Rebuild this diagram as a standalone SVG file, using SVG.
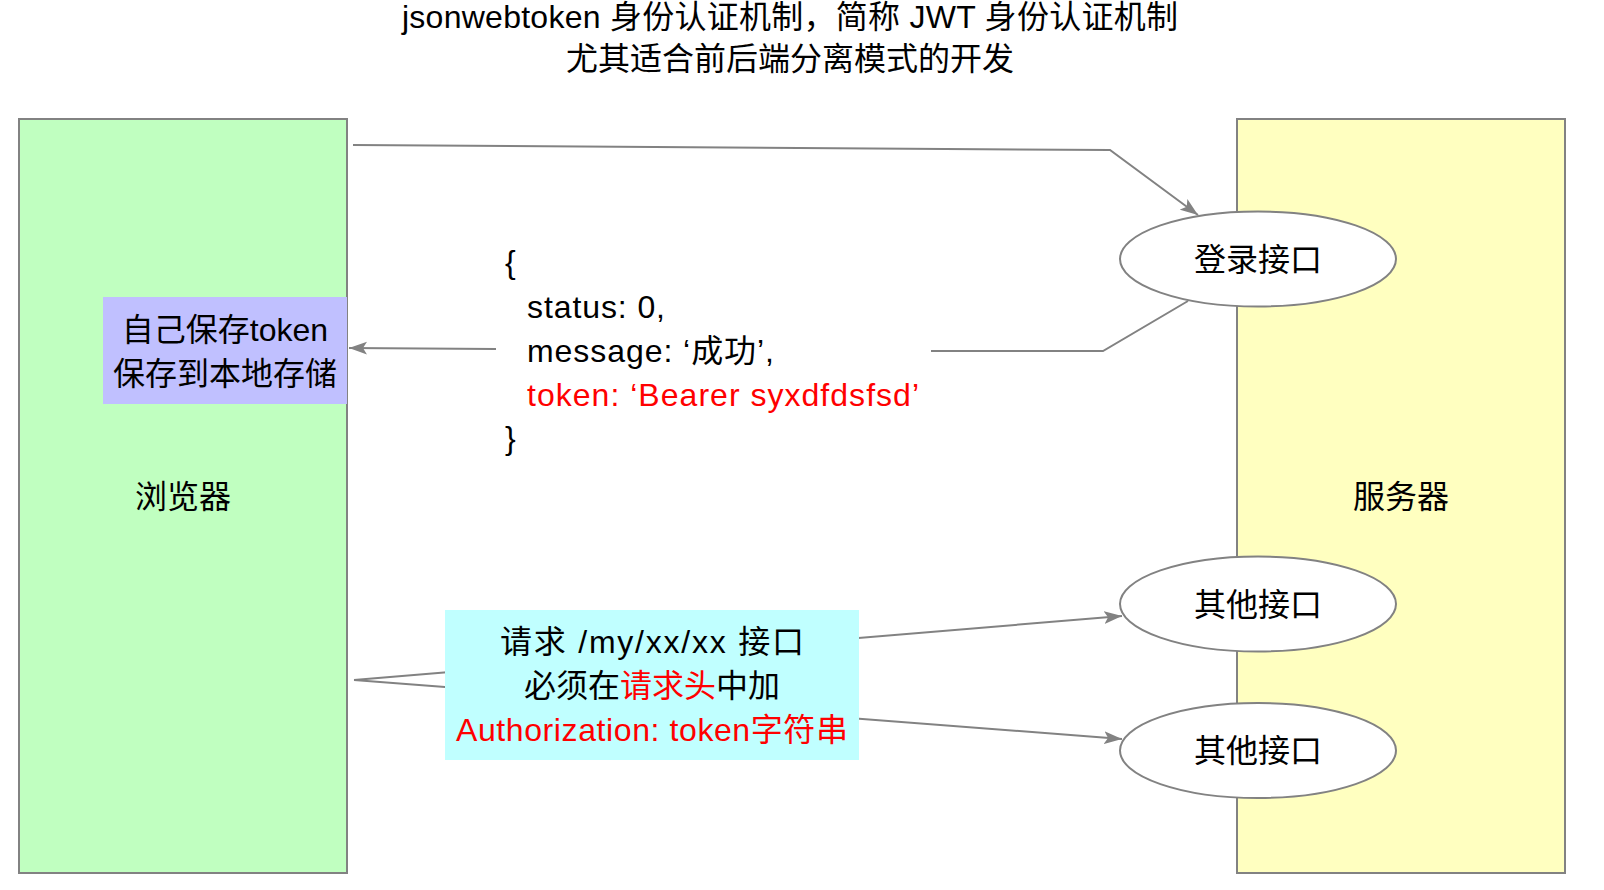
<svg xmlns="http://www.w3.org/2000/svg" width="1604" height="890" viewBox="0 0 1604 890">
<defs>
<style>
text{font-family:"Liberation Sans","Noto Sans CJK SC",sans-serif;font-size:32px;fill:#000}
.red{fill:#ff0000}
.box{stroke:#828282;stroke-width:2}
.edge{fill:none;stroke:#828282;stroke-width:2}
.ell{fill:#fff;stroke:#828282;stroke-width:2}
</style>
<marker id="arr" markerUnits="userSpaceOnUse" markerWidth="19" markerHeight="14" viewBox="0 0 19 14" refX="18" refY="7" orient="auto">
<path d="M0,0.5 L18,7 L0,13.5 L4,7 z" fill="#828282"/>
</marker>
</defs>
<rect width="1604" height="890" fill="#fff"/>
<g id="title">
<text x="790" y="28" text-anchor="middle" textLength="776">jsonwebtoken 身份认证机制，简称 JWT 身份认证机制</text>
<text x="790" y="70" text-anchor="middle">尤其适合前后端分离模式的开发</text>
</g>
<g id="browser">
<rect class="box" x="19" y="119" width="328" height="754" fill="#c0ffc0"/>
<text x="183" y="508" text-anchor="middle">浏览器</text>
</g>
<g id="server">
<rect class="box" x="1237" y="119" width="328" height="754" fill="#ffffc0"/>
<text x="1401" y="508" text-anchor="middle">服务器</text>
</g>
<g id="connectors">
<path class="edge" d="M353,145 L1110,150 L1198,215" marker-end="url(#arr)"/>
<path class="edge" d="M1188,301 L1103,351 L931,351 M496,349 L349,348" marker-end="url(#arr)"/>
<path class="edge" d="M354,680 L1122,616" marker-end="url(#arr)"/>
<path class="edge" d="M354,680 L1122,739" marker-end="url(#arr)"/>
</g>
<g id="save-token">
<rect x="103" y="297" width="244" height="107" fill="#c0c0ff"/>
<text x="225" y="341" text-anchor="middle">自己保存token</text>
<text x="225" y="385" text-anchor="middle">保存到本地存储</text>
</g>
<g id="response">
<text x="505" y="273">{</text>
<text x="527" y="318" textLength="138">status: 0,</text>
<text x="527" y="362" textLength="247">message: ‘成功’,</text>
<text x="527" y="406" class="red" textLength="392">token: ‘Bearer syxdfdsfsd’</text>
<text x="505" y="449">}</text>
</g>
<g id="login">
<ellipse class="ell" cx="1258" cy="259" rx="138" ry="47.5"/>
<text x="1258" y="271" text-anchor="middle">登录接口</text>
</g>
<g id="other1">
<ellipse class="ell" cx="1258" cy="604" rx="138" ry="47.5"/>
<text x="1258" y="616" text-anchor="middle">其他接口</text>
</g>
<g id="other2">
<ellipse class="ell" cx="1258" cy="750.5" rx="138" ry="47.5"/>
<text x="1258" y="762" text-anchor="middle">其他接口</text>
</g>
<g id="request">
<rect x="445" y="610" width="414" height="150" fill="#c0ffff"/>
<text x="652" y="653" text-anchor="middle" textLength="304">请求 /my/xx/xx 接口</text>
<text x="652" y="697" text-anchor="middle">必须在<tspan class="red">请求头</tspan>中加</text>
<text x="652" y="741" text-anchor="middle" class="red" textLength="392">Authorization: token字符串</text>
</g>
</svg>
